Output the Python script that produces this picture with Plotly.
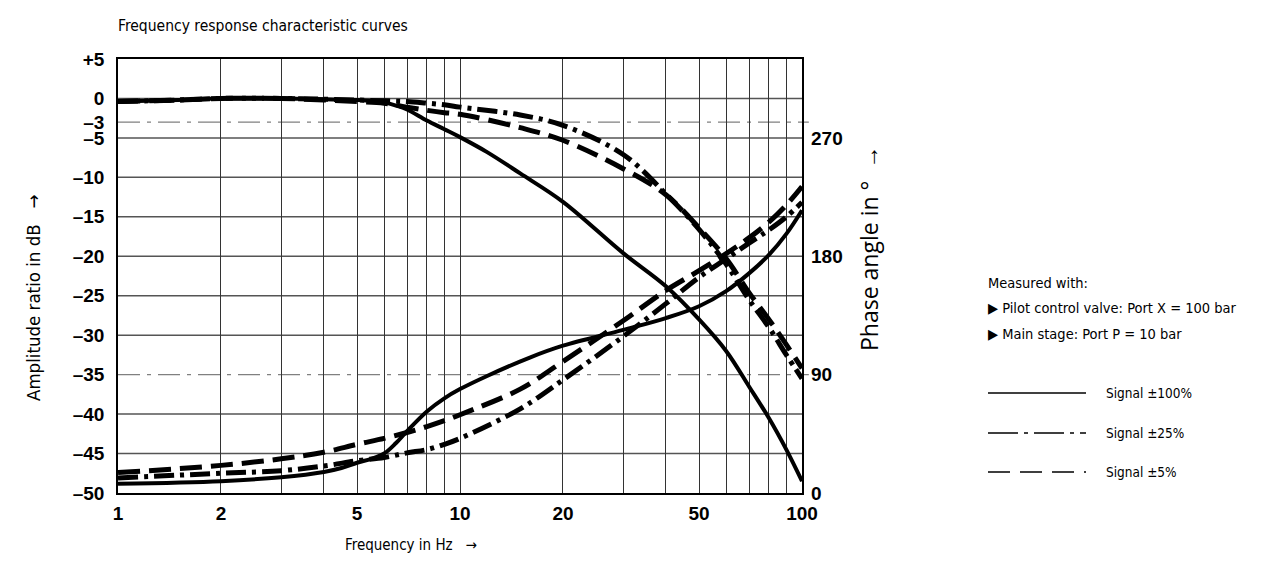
import plotly.graph_objects as go

# ---------------- data ----------------
# Amplitude ratio in dB
amp100_f = [1, 1.5, 2, 3, 4, 5, 5.5, 6, 6.5, 7, 8, 9, 10, 12, 15, 20, 30, 40, 50, 60, 70, 80, 90, 100]
amp100_db = [-0.4, -0.2, 0, 0, -0.1, -0.2, -0.3, -0.5, -0.9, -1.4, -2.8, -3.9, -4.9, -6.8, -9.5, -13.1,
             -19.6, -23.8, -28.0, -32.0, -36.5, -40.5, -44.5, -48.5]

amp25_f = [1, 1.5, 2, 3, 4, 5, 6, 7, 8, 9, 10, 15, 20, 30, 40, 50, 60, 70, 80, 90, 100]
amp25_db = [-0.4, -0.2, 0, 0, -0.1, -0.2, -0.3, -0.4, -0.6, -0.8, -1.1, -2.1, -3.4, -7.1, -12.1,
            -16.6, -21.0, -25.5, -29.0, -32.5, -35.5]

amp5_f = [1, 1.5, 2, 3, 4, 5, 6, 7, 8, 9, 10, 15, 20, 30, 40, 50, 60, 70, 80, 90, 100]
amp5_db = [-0.4, -0.2, 0, 0, -0.2, -0.4, -0.6, -1.1, -1.5, -1.8, -2.0, -3.7, -5.3, -8.9, -12.2,
           -16.4, -20.3, -24.6, -28.0, -31.2, -34.2]

# Phase angle in degrees
ph100_f = [1, 2, 3, 4, 4.5, 5, 5.5, 6, 6.5, 7, 8, 9, 10, 12, 16, 20, 30, 40, 50, 60, 70, 80, 90, 100]
ph100_deg = [7, 9, 12, 16, 19, 23, 26, 30, 38, 47, 62, 72, 79, 89, 103, 112, 124, 133, 142,
             153.5, 167, 181, 197, 215]

ph25_f = [1, 2, 3, 4, 5, 6, 7, 8, 9, 10, 15, 20, 30, 40, 50, 60, 70, 80, 90, 100]
ph25_deg = [11.5, 15, 17, 20.5, 24.5, 27, 30.5, 33, 37, 41.5, 64, 86, 119, 144, 164, 178, 190,
            200, 210, 221]

ph5_f = [1, 2, 3, 4, 5, 6, 7, 8, 9, 10, 15, 20, 30, 40, 50, 60, 70, 80, 90, 100]
ph5_deg = [15.5, 21, 26, 31, 37, 41.5, 46, 50.5, 55, 59.5, 79, 100, 131, 154, 169, 182, 194, 206,
           219, 233]

# axes ticks
x_tickvals = [1, 2, 3, 4, 5, 6, 7, 8, 9, 10, 20, 30, 40, 50, 60, 70, 80, 90, 100]
x_ticktext = ["1", "2", "", "", "5", "", "", "", "", "10", "20", "", "", "50", "", "", "", "", "100"]
y_tickvals = [5, 0, -3, -5, -10, -15, -20, -25, -30, -35, -40, -45, -50]
y_ticktext = ["+5", "0", "–3", "–5", "–10", "–15", "–20", "–25", "–30", "–35", "–40", "–45", "–50"]
y_grid_solid = [0, -5, -10, -15, -20, -25, -30, -40, -45]
y_grid_ref = [-3, -35]
y2_tickvals = [0, 90, 180, 270]

# ---------------- layout helpers ----------------
OFF = 8                      # page body margin of the html page
W, H = 1264 - 2 * OFF, 563 - 2 * OFF
PL, PR, PT, PB = 118, 802, 59, 493     # plot area in page pixels


def px(x):
    return (x - PL) / (PR - PL)


def py(y):
    return (PB - y) / (PB - PT)


TICKFONT = dict(family="Liberation Sans, Arial, sans-serif", size=19, color="black", weight=700)
NARROW = "DejaVu Sans Condensed, DejaVu Sans, sans-serif"

DASH = "22px,9px"
DASHDOT = "20px,6px,4px,6px"

fig = go.Figure()


def add(fx, fy, dash, width, axis):
    fig.add_trace(go.Scatter(
        x=fx, y=fy, mode="lines", yaxis=axis,
        line=dict(color="black", width=width, dash=dash, shape="spline", smoothing=1.0),
        showlegend=False, hoverinfo="skip"))


add(amp100_f, amp100_db, "solid", 4, "y")
add(amp25_f, amp25_db, DASHDOT, 5, "y")
add(amp5_f, amp5_db, DASH, 5, "y")
add(ph100_f, ph100_deg, "solid", 4, "y2")
add(ph25_f, ph25_deg, DASHDOT, 5, "y2")
add(ph5_f, ph5_deg, DASH, 5, "y2")

shapes = []
for g in y_grid_solid:
    shapes.append(dict(type="line", xref="paper", x0=0, x1=1, yref="y", y0=g, y1=g,
                       line=dict(color="#555555", width=1.5), layer="below"))
for g in y_grid_ref:
    shapes.append(dict(type="line", xref="paper", x0=0, x1=1.01, yref="y", y0=g, y1=g,
                       line=dict(color="#808080", width=1.3, dash="22px,7px,4px,7px"), layer="below"))

# legend samples
leg_rows = [(393, "solid", "Signal ±100%"), (433, "30px,6px,4px,6px", "Signal ±25%"),
            (472, "22px,10px", "Signal ±5%")]
annotations = []
for yy, dsh, txt in leg_rows:
    shapes.append(dict(type="line", xref="paper", yref="paper", x0=px(988), x1=px(1086),
                       y0=py(yy), y1=py(yy), line=dict(color="black", width=1.5, dash=dsh)))
    annotations.append(dict(xref="paper", yref="paper", x=px(1104), y=py(yy), text=txt,
                            showarrow=False, xanchor="left", yanchor="middle",
                            font=dict(family=NARROW, size=13.5, color="black")))

for yy, txt in [(283, "Measured with:"), (308, "▶ Pilot control valve: Port X = 100 bar"),
                (334, "▶ Main stage: Port P = 10 bar")]:
    annotations.append(dict(xref="paper", yref="paper", x=px(986), y=py(yy), text=txt,
                            showarrow=False, xanchor="left", yanchor="middle",
                            font=dict(family=NARROW, size=14.5, color="black")))

annotations.append(dict(xref="paper", yref="paper", x=px(116), y=py(26),
                        text="Frequency response characteristic curves", showarrow=False,
                        xanchor="left", yanchor="middle",
                        font=dict(family=NARROW, size=15.5, color="black")))
annotations.append(dict(xref="paper", yref="paper", x=px(411), y=py(545),
                        text="Frequency in Hz   →", showarrow=False,
                        xanchor="center", yanchor="middle",
                        font=dict(family=NARROW, size=15, color="black")))
annotations.append(dict(xref="paper", yref="paper", x=px(33), y=py(298),
                        text="Amplitude ratio in dB   →", showarrow=False, textangle=-90,
                        xanchor="center", yanchor="middle",
                        font=dict(family=NARROW, size=18.5, color="black")))
annotations.append(dict(xref="paper", yref="paper", x=px(869), y=py(248),
                        text="Phase angle in °  →", showarrow=False, textangle=-90,
                        xanchor="center", yanchor="middle",
                        font=dict(family="Open Sans, Noto Sans, sans-serif", size=23, color="black")))

fig.update_layout(
    width=W, height=H,
    margin=dict(l=PL - OFF, r=W - (PR - OFF), t=PT - OFF, b=H - (PB - OFF), pad=0),
    paper_bgcolor="white", plot_bgcolor="white",
    shapes=shapes, annotations=annotations,
    xaxis=dict(type="log", range=[0, 2], tickvals=x_tickvals, ticktext=x_ticktext,
               showgrid=True, gridcolor="#333333", gridwidth=1.2,
               showline=True, linecolor="black", linewidth=1.5, mirror=True,
               ticks="", tickfont=TICKFONT, zeroline=False, ticklabelstandoff=2),
    yaxis=dict(range=[-50, 5], tickvals=y_tickvals, ticktext=y_ticktext, showgrid=False,
               showline=True, linecolor="black", linewidth=1.5, mirror=True,
               ticks="", tickfont=TICKFONT, zeroline=False, ticklabelstandoff=8),
    yaxis2=dict(range=[0, 330], overlaying="y", side="right", tickvals=y2_tickvals,
                showgrid=False, showline=False, ticks="", tickfont=TICKFONT, zeroline=False,
                ticklabelstandoff=8),
)

fig.write_html("out.html")
